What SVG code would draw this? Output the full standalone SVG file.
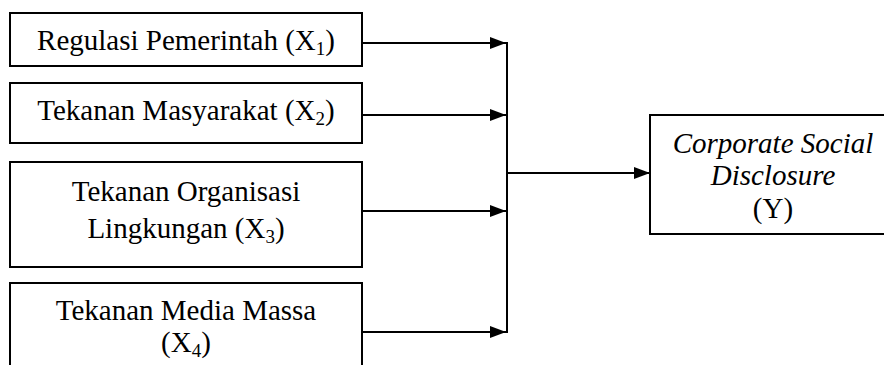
<svg xmlns="http://www.w3.org/2000/svg" width="884" height="365" viewBox="0 0 884 365">
<defs>
<style>
.box{fill:#fff;stroke:#000;stroke-width:2}
.t{font-family:"Liberation Serif","Times New Roman",serif;font-size:29px;fill:#000;text-anchor:middle}
.i{font-style:italic}
.sub{font-size:19px}
.c{fill:none;stroke:#000;stroke-width:2}
</style>
<marker id="ah" markerUnits="userSpaceOnUse" markerWidth="16" markerHeight="12" refX="16" refY="6" orient="auto">
<path d="M0,0 L16,6 L0,12 z" fill="#000"/>
</marker>
</defs>
<rect width="884" height="365" fill="#fff"/>
<g id="x1">
<rect class="box" x="10" y="13" width="352" height="53"/>
<text class="t" x="186" y="50">Regulasi Pemerintah (X<tspan class="sub" dy="5">1</tspan><tspan dy="-5">)</tspan></text>
</g>
<g id="x2">
<rect class="box" x="10" y="83" width="352" height="60"/>
<text class="t" x="186" y="120">Tekanan Masyarakat (X<tspan class="sub" dy="5">2</tspan><tspan dy="-5">)</tspan></text>
</g>
<g id="x3">
<rect class="box" x="10" y="162" width="352" height="105"/>
<text class="t" x="186" y="201">Tekanan Organisasi</text>
<text class="t" x="186" y="238">Lingkungan (X<tspan class="sub" dy="5">3</tspan><tspan dy="-5">)</tspan></text>
</g>
<g id="x4">
<rect class="box" x="10" y="283" width="352" height="100"/>
<text class="t" x="186" y="320">Tekanan Media Massa</text>
<text class="t" x="186" y="352">(X<tspan class="sub" dy="5">4</tspan><tspan dy="-5">)</tspan></text>
</g>
<g id="y">
<rect class="box" x="650" y="115" width="250" height="119"/>
<text class="t i" x="773" y="153">Corporate Social</text>
<text class="t i" x="773" y="185">Disclosure</text>
<text class="t" x="773" y="218">(Y)</text>
</g>
<g id="connectors">
<line class="c" x1="362" y1="43" x2="506" y2="43" marker-end="url(#ah)"/>
<line class="c" x1="362" y1="115" x2="506" y2="115" marker-end="url(#ah)"/>
<line class="c" x1="362" y1="211" x2="506" y2="211" marker-end="url(#ah)"/>
<line class="c" x1="362" y1="332" x2="506" y2="332" marker-end="url(#ah)"/>
<line class="c" x1="507" y1="42" x2="507" y2="333"/>
<line class="c" x1="507" y1="173" x2="650" y2="173" marker-end="url(#ah)"/>
</g>
</svg>
